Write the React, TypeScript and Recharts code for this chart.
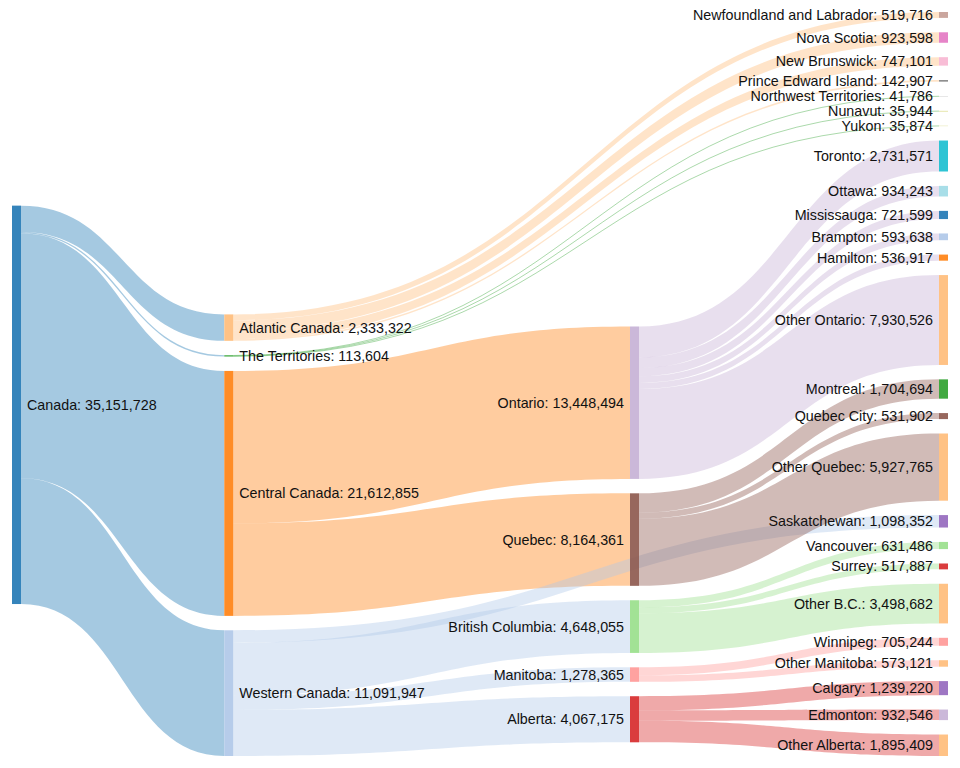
import { Sankey } from "recharts"

const CHART_W = 960
const CHART_H = 768
const MARGIN = { top: 12, right: 12, bottom: 12, left: 12 }
const NODE_W = 9
const NODE_PAD = 14.4
// relative placement of the four columns (0 = left, 1 = right)
const COLUMN_POS = [0, 0.229, 2 / 3, 1]

const nodeNames = [
  "Canada",
  "Atlantic Canada",
  "The Territories",
  "Central Canada",
  "Western Canada",
  "Ontario",
  "Quebec",
  "British Columbia",
  "Manitoba",
  "Alberta",
  "Newfoundland and Labrador",
  "Nova Scotia",
  "New Brunswick",
  "Prince Edward Island",
  "Northwest Territories",
  "Nunavut",
  "Yukon",
  "Toronto",
  "Ottawa",
  "Mississauga",
  "Brampton",
  "Hamilton",
  "Other Ontario",
  "Montreal",
  "Quebec City",
  "Other Quebec",
  "Saskatchewan",
  "Vancouver",
  "Surrey",
  "Other B.C.",
  "Winnipeg",
  "Other Manitoba",
  "Calgary",
  "Edmonton",
  "Other Alberta",
]

type Flow = [string, string, number]

const regionFlows: Flow[] = [
  ["Canada", "Atlantic Canada", 2333322],
  ["Canada", "The Territories", 113604],
  ["Canada", "Central Canada", 21612855],
  ["Canada", "Western Canada", 11091947],
]

const provinceFlows: Flow[] = [
  ["Atlantic Canada", "Newfoundland and Labrador", 519716],
  ["Atlantic Canada", "Nova Scotia", 923598],
  ["Atlantic Canada", "New Brunswick", 747101],
  ["Atlantic Canada", "Prince Edward Island", 142907],
  ["The Territories", "Northwest Territories", 41786],
  ["The Territories", "Nunavut", 35944],
  ["The Territories", "Yukon", 35874],
  ["Central Canada", "Ontario", 13448494],
  ["Central Canada", "Quebec", 8164361],
  ["Western Canada", "Saskatchewan", 1098352],
  ["Western Canada", "British Columbia", 4648055],
  ["Western Canada", "Manitoba", 1278365],
  ["Western Canada", "Alberta", 4067175],
]

const cityFlows: Flow[] = [
  ["Ontario", "Toronto", 2731571],
  ["Ontario", "Ottawa", 934243],
  ["Ontario", "Mississauga", 721599],
  ["Ontario", "Brampton", 593638],
  ["Ontario", "Hamilton", 536917],
  ["Ontario", "Other Ontario", 7930526],
  ["Quebec", "Montreal", 1704694],
  ["Quebec", "Quebec City", 531902],
  ["Quebec", "Other Quebec", 5927765],
  ["British Columbia", "Vancouver", 631486],
  ["British Columbia", "Surrey", 517887],
  ["British Columbia", "Other B.C.", 3498682],
  ["Manitoba", "Winnipeg", 705244],
  ["Manitoba", "Other Manitoba", 573121],
  ["Alberta", "Calgary", 1239220],
  ["Alberta", "Edmonton", 932546],
  ["Alberta", "Other Alberta", 1895409],
]

// d3 category20, handed out by the first word of the node name
const PALETTE = [
  "#1f77b4", "#aec7e8", "#ff7f0e", "#ffbb78", "#2ca02c",
  "#98df8a", "#d62728", "#ff9896", "#9467bd", "#c5b0d5",
  "#8c564b", "#c49c94", "#e377c2", "#f7b6d2", "#7f7f7f",
  "#c7c7c7", "#bcbd22", "#dbdb8d", "#17becf", "#9edae5",
]
const colorKeys = [
  "Canada", "Western", "Central", "Atlantic", "The",
  "British", "Alberta", "Manitoba", "Saskatchewan", "Ontario",
  "Quebec", "Newfoundland", "Nova", "New", "Prince",
  "Northwest", "Nunavut", "Yukon", "Toronto", "Ottawa",
  "Mississauga", "Brampton", "Hamilton", "Other", "Montreal",
  "Vancouver", "Surrey", "Winnipeg", "Calgary", "Edmonton",
]

const colorFor = (name: string) => {
  const key = name.split(" ")[0]
  const i = colorKeys.indexOf(key)
  return PALETTE[(i < 0 ? 0 : i) % PALETTE.length]
}

const fmt = (v: number) => v.toLocaleString("en-US")

const allFlows = [...regionFlows, ...provinceFlows, ...cityFlows]

const data = {
  nodes: nodeNames.map((name) => ({ name })),
  links: allFlows.map(([s, t, value]) => ({
    source: nodeNames.indexOf(s),
    target: nodeNames.indexOf(t),
    value,
  })),
}

const innerW = CHART_W - MARGIN.left - MARGIN.right
const maxDepth = COLUMN_POS.length - 1
const step = (innerW - NODE_W) / maxDepth

const depthOf = (x: number) => Math.round((x - MARGIN.left) / step)

// library x (even columns) -> our column placement
const remapX = (x: number) =>
  MARGIN.left + COLUMN_POS[depthOf(x)] * (innerW - NODE_W)

function NodeShape(props: any) {
  const { x, y, height, payload } = props
  const nx = remapX(x)
  const onLeft = depthOf(x) < 2
  return (
    <g>
      <rect
        x={nx}
        y={y}
        width={NODE_W}
        height={height}
        fill={colorFor(payload.name)}
        fillOpacity={0.9}
      />
      <text
        x={onLeft ? nx + NODE_W + 6 : nx - 6}
        y={y + height / 2}
        dy="0.35em"
        textAnchor={onLeft ? "start" : "end"}
        fontSize={14.3}
        fontFamily="'Liberation Sans', Arial, Helvetica, sans-serif"
        fill="#111"
      >
        {`${payload.name}: ${fmt(payload.value)}`}
      </text>
    </g>
  )
}

function LinkShape(props: any) {
  const { sourceX, targetX, sourceY, targetY, linkWidth, payload } = props
  const sx = remapX(sourceX - NODE_W) + NODE_W
  const tx = remapX(targetX)
  const mx = (sx + tx) / 2
  const srcName =
    typeof payload.source === "object"
      ? payload.source.name
      : nodeNames[payload.source]
  const color = colorFor(srcName)

  if (linkWidth < 1.5) {
    return (
      <path
        d={`M${sx},${sourceY}C${mx},${sourceY} ${mx},${targetY} ${tx},${targetY}`}
        fill="none"
        stroke={color}
        strokeOpacity={0.4}
        strokeWidth={Math.max(1, linkWidth)}
      />
    )
  }

  const h = linkWidth / 2
  const s0 = sourceY - h
  const s1 = sourceY + h
  const t0 = targetY - h
  const t1 = targetY + h
  return (
    <path
      d={`M${sx},${s0}C${mx},${s0} ${mx},${t0} ${tx},${t0}L${tx},${t1}C${mx},${t1} ${mx},${s1} ${sx},${s1}Z`}
      fill={color}
      fillOpacity={0.4}
      stroke="none"
    />
  )
}

export default function App() {
  return (
    <div
      style={{
        position: "absolute",
        left: 0,
        top: 0,
        width: CHART_W,
        height: CHART_H,
        background: "#fff",
      }}
    >
      <Sankey
        width={CHART_W}
        height={CHART_H}
        data={data}
        margin={MARGIN}
        nodeWidth={NODE_W}
        nodePadding={NODE_PAD}
        iterations={1}
        sort={false}
        node={<NodeShape />}
        link={<LinkShape />}
      />
    </div>
  )
}
